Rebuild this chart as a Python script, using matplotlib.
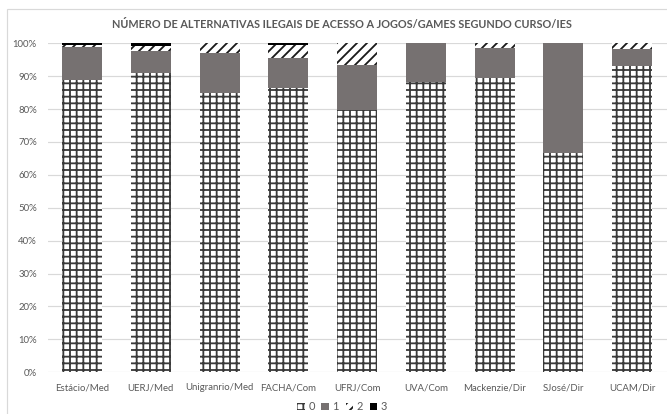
import matplotlib
matplotlib.use("Agg")
import matplotlib.pyplot as plt
from matplotlib.patches import Rectangle
import numpy as np

# share of students (%) by number of illegal alternatives used
categories = ["Estácio/Med", "UERJ/Med", "Unigranrio/Med", "FACHA/Com", "UFRJ/Com",
              "UVA/Com", "Mackenzie/Dir", "SJosé/Dir", "UCAM/Dir"]
series_names = ["0", "1", "2", "3"]
zero = [88.7, 91.1, 84.8, 86.3, 79.7, 88.2, 89.5, 66.7, 93.2]
one = [10.1, 6.7, 12.2, 9.2, 13.8, 11.8, 9.2, 33.3, 5.0]
two = [0.8, 1.5, 3.0, 4.0, 6.5, 0.0, 1.3, 0.0, 1.8]
three = [0.4, 0.7, 0.0, 0.5, 0.0, 0.0, 0.0, 0.0, 0.0]

TXT = "#595959"
DPI = 120  # hatch spacing scales with dpi, so render at 120 for a coarser grid
plt.rcParams["font.family"] = ["Lato", "DejaVu Sans"]
plt.rcParams["hatch.linewidth"] = 1.1

fig = plt.figure(figsize=(667 / DPI, 414 / DPI), dpi=DPI)
ax = fig.add_axes([0.0714, 0.101, 0.928, 0.7944])

x = np.arange(len(categories))
w = 0.58
styles = [
    dict(facecolor="white", edgecolor="#3a3a3a", hatch="+++", linewidth=0),
    dict(facecolor="#767171", edgecolor="#767171", linewidth=0),
    dict(facecolor="white", edgecolor="#1a1a1a", hatch="////", linewidth=0),
    dict(facecolor="black", edgecolor="black", linewidth=0),
]
bottom = np.zeros(len(categories))
for name, vals, st in zip(series_names, [zero, one, two, three], styles):
    vals = np.array(vals)
    ax.bar(x, vals, w, bottom=bottom, label=name, zorder=2, **st)
    bottom += vals

ax.set_xlim(-0.5, len(categories) - 0.5)
ax.set_ylim(0, 100)
ax.set_yticks(np.arange(0, 101, 10))
ax.set_yticklabels([f"{v}%" for v in range(0, 101, 10)])
ax.set_xticks(x)
ax.set_xticklabels(categories)
ax.tick_params(axis="both", length=0, labelsize=5.8, colors=TXT)
ax.tick_params(axis="y", pad=6.5)
ax.tick_params(axis="x", pad=6.5)
ax.yaxis.grid(True, color="#d9d9d9", linewidth=0.7, zorder=0)
ax.set_axisbelow(True)
for s in ax.spines.values():
    s.set_visible(False)

fig.text(0.513, 0.942, "NÚMERO DE ALTERNATIVAS ILEGAIS DE ACESSO A JOGOS/GAMES SEGUNDO CURSO/IES",
         ha="center", va="center", fontsize=6.5, fontweight="bold", color=TXT)

fig.legend(loc="center", bbox_to_anchor=(0.513, 0.017), ncol=4, frameon=False,
           fontsize=6.6, handlelength=0.7, handleheight=0.7, handletextpad=0.3,
           columnspacing=0.6, labelcolor=TXT)

fig.patches.append(Rectangle((0.0105, -0.01), 1.0, 0.988, transform=fig.transFigure,
                             fill=False, edgecolor="#d9d9d9", linewidth=0.7))

fig.savefig("out.png", dpi=DPI)
